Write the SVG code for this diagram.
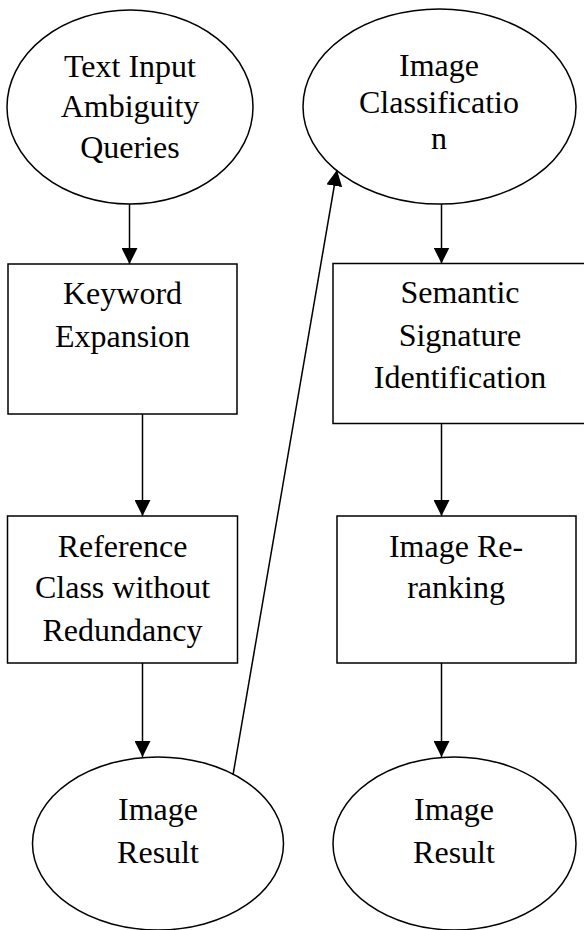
<svg xmlns="http://www.w3.org/2000/svg" width="584" height="930" viewBox="0 0 584 930">
<defs>
<style>
.shape{fill:#fff;stroke:#000;stroke-width:1.5}
.lbl{font-family:"Liberation Serif","Times New Roman",serif;font-size:32px;fill:#000;text-anchor:middle}
.conn{stroke:#000;stroke-width:1.5;fill:none;marker-end:url(#arr)}
</style>
<marker id="arr" markerUnits="userSpaceOnUse" markerWidth="16" markerHeight="16" viewBox="0 0 16 16" refX="16" refY="8" orient="auto">
<path d="M0,0 L16,8 L0,16 z" fill="#000"/>
</marker>
</defs>
<rect width="584" height="930" fill="#fff"/>
<g id="n-text-input">
<ellipse class="shape" cx="130" cy="107" rx="123" ry="97"/>
<text class="lbl"><tspan x="130" y="77">Text Input</tspan><tspan x="130" y="117">Ambiguity</tspan><tspan x="130" y="158">Queries</tspan></text>
</g>
<g id="n-image-classification">
<ellipse class="shape" cx="439.5" cy="106.5" rx="136.5" ry="97.5"/>
<text class="lbl"><tspan x="439" y="76">Image</tspan><tspan x="439" y="112.5">Classificatio</tspan><tspan x="439" y="149">n</tspan></text>
</g>
<g id="n-keyword-expansion">
<rect class="shape" x="8" y="264" width="229" height="150"/>
<text class="lbl"><tspan x="122.5" y="304">Keyword</tspan><tspan x="122.5" y="347">Expansion</tspan></text>
</g>
<g id="n-semantic-signature">
<rect class="shape" x="333" y="263.5" width="254" height="160"/>
<text class="lbl"><tspan x="460" y="303">Semantic</tspan><tspan x="460" y="346">Signature</tspan><tspan x="460" y="388">Identification</tspan></text>
</g>
<g id="n-reference-class">
<rect class="shape" x="7.5" y="516" width="230" height="147"/>
<text class="lbl"><tspan x="122.5" y="557">Reference</tspan><tspan x="122.5" y="598">Class without</tspan><tspan x="122.5" y="641">Redundancy</tspan></text>
</g>
<g id="n-image-reranking">
<rect class="shape" x="337" y="516" width="239" height="147"/>
<text class="lbl"><tspan x="456" y="557">Image Re-</tspan><tspan x="456" y="598">ranking</tspan></text>
</g>
<g id="n-image-result-left">
<ellipse class="shape" cx="158" cy="843.5" rx="125.5" ry="86.5"/>
<text class="lbl"><tspan x="158" y="820">Image</tspan><tspan x="158" y="863">Result</tspan></text>
</g>
<g id="n-image-result-right">
<ellipse class="shape" cx="454.5" cy="843.5" rx="121.5" ry="86.5"/>
<text class="lbl"><tspan x="454" y="820">Image</tspan><tspan x="454" y="863">Result</tspan></text>
</g>
<g id="connectors">
<line class="conn" x1="129.5" y1="204" x2="129.5" y2="264"/>
<line class="conn" x1="142.5" y1="414" x2="142.5" y2="516"/>
<line class="conn" x1="142.5" y1="663" x2="142.5" y2="757"/>
<line class="conn" x1="233" y1="775" x2="337" y2="170"/>
<line class="conn" x1="441.5" y1="204" x2="441.5" y2="263.5"/>
<line class="conn" x1="441.5" y1="423.5" x2="441.5" y2="516"/>
<line class="conn" x1="441.5" y1="663" x2="441.5" y2="757"/>
</g>
</svg>
